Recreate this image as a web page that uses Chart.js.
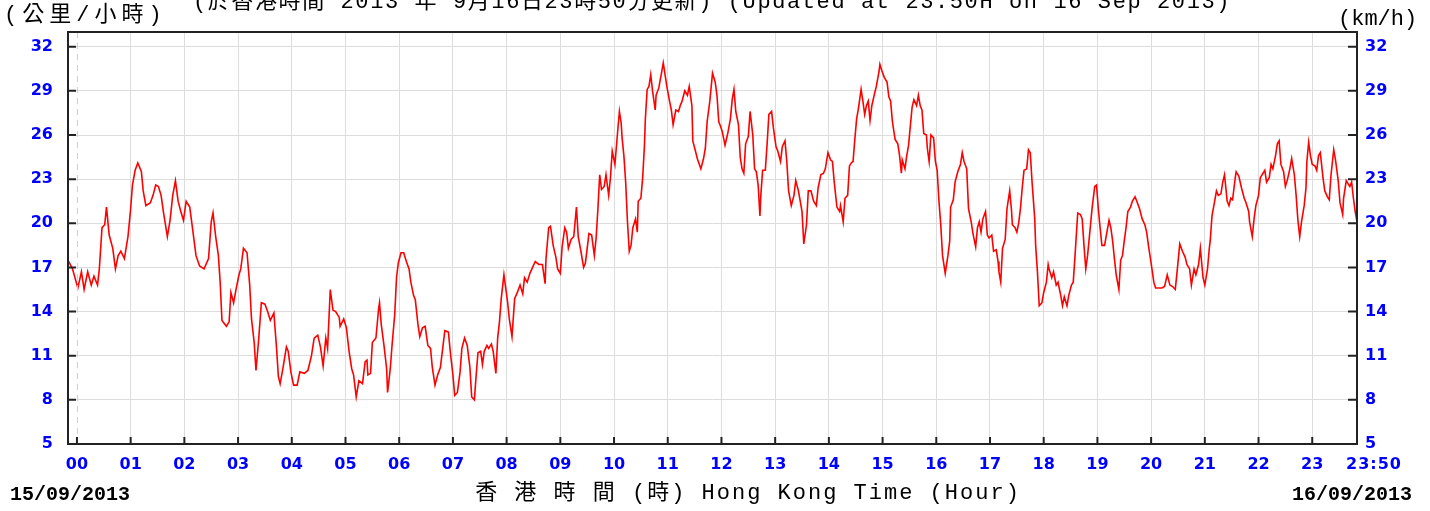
<!DOCTYPE html>
<html>
<head>
<meta charset="utf-8">
<script src="https://cdn.jsdelivr.net/npm/chart.js@4.4.0/dist/chart.umd.min.js"></script>
<style>
  body { margin: 0; background: #fff; }
  #wrap { width: 1430px; height: 511px; }
</style>
</head>
<body>
<div id="wrap"><canvas id="windChart" width="1430" height="511"></canvas></div>
<script>
// minutos desde 00:00 de 15/09 e velocidade (km/h)
const times = [
  -10, -5, 1, 5, 8, 12, 16, 19, 23, 25, 28, 31, 33, 36, 40, 43, 46, 49, 53, 57,
  60, 62, 65, 68, 72, 74, 77, 82, 85, 88, 91, 94, 97, 101, 104, 107, 110, 113, 116, 119,
  122, 126, 129, 133, 137, 142, 147, 150, 152, 155, 158, 160, 162, 167, 170, 172, 175, 178,
  181, 183, 186, 190, 193, 195, 198, 200, 203, 206, 210, 213, 216, 220, 223, 225, 227, 230, 234, 236, 239,
  242, 246, 249, 254, 258, 262, 265, 269, 272, 275, 278, 280, 283, 286, 289, 293, 294, 298,
  301, 304, 307, 309, 312, 315, 319, 322, 324, 325, 328, 330, 334, 337, 338, 340, 343, 346, 347, 350, 352, 355, 357, 359,
  362, 365, 368, 371, 373, 376, 378, 381, 383, 386, 389, 392, 395, 397, 400, 403, 406, 409, 411, 415, 417, 420,
  422, 425, 428, 430, 433, 436, 439, 441, 444, 446, 448, 451, 453, 455, 458, 460, 463, 465, 468, 470, 472, 474, 477, 479,
  481, 483, 486, 489, 492, 495, 498, 500, 503, 506, 509, 512, 516, 520, 523, 524, 527, 529, 532, 535, 537, 540,
  542, 545, 547, 549, 552, 555, 558, 560, 563, 566, 568, 572, 575, 578, 580, 582, 584, 586, 589, 591, 594, 596, 598,
  601, 604, 606, 608, 609, 611, 613, 615, 617, 619, 621, 624, 626, 627, 630, 632, 634, 635, 637, 639, 641, 643, 646, 647, 650,
  653, 655, 657, 659, 662, 664, 666, 669, 672, 674, 676, 679, 682, 684, 687, 688, 691, 693, 697, 700, 702, 704, 707, 710,
  713, 715, 717, 719, 721, 724, 727, 730, 732, 734, 736, 739, 741, 743, 745, 747, 750, 752, 755, 757, 759,
  761, 763, 764, 766, 769, 771, 773, 776, 778, 781, 783, 786, 788, 791, 793, 795, 798, 801, 803, 806, 808, 810, 812, 815, 817, 820,
  823, 826, 828, 831, 834, 836, 839, 842, 844, 846, 849, 852, 853, 856, 858, 861, 863, 865, 867, 869, 871, 873, 876, 878, 880,
  882, 884, 886, 888, 891, 893, 896, 897, 899, 902, 905, 907, 909, 911, 914, 917, 919, 921, 922, 925, 927, 929, 931, 933, 935, 938, 940,
  942, 944, 946, 949, 950, 952, 954, 957, 959, 961, 963, 965, 967, 970, 973, 975, 976, 979, 981, 984, 987, 989, 991, 994, 996, 999,
  1001, 1004, 1006, 1008, 1010, 1012, 1015, 1017, 1019, 1022, 1024, 1027, 1029, 1030, 1032, 1034, 1037, 1039, 1042, 1044, 1045, 1048, 1050, 1052, 1054, 1056, 1058,
  1061, 1063, 1065, 1067, 1070, 1071, 1073, 1075, 1078, 1080, 1083, 1085, 1086, 1089, 1091, 1094, 1096, 1099, 1101, 1103, 1106, 1108, 1111, 1113, 1115, 1118,
  1121, 1123, 1125, 1127, 1129, 1132, 1134, 1137, 1139, 1141, 1143, 1145, 1148, 1150, 1153, 1155, 1157, 1159, 1161, 1164, 1166, 1168, 1170, 1172, 1174, 1177, 1179,
  1182, 1184, 1187, 1190, 1193, 1195, 1197, 1200, 1203, 1205, 1209, 1212, 1215, 1218, 1221, 1224, 1227, 1229, 1232, 1235, 1238,
  1240, 1243, 1245, 1248, 1250, 1253, 1255, 1258, 1260, 1263, 1265, 1266, 1268, 1271, 1273, 1275, 1278, 1280, 1282, 1285, 1287, 1289, 1291, 1294, 1295, 1298,
  1301, 1304, 1306, 1309, 1310, 1313, 1315, 1317, 1320, 1322, 1324, 1327, 1329, 1332, 1334, 1336, 1339, 1341, 1343, 1345, 1348, 1350, 1352, 1355, 1357,
  1360, 1362, 1364, 1366, 1368, 1371, 1373, 1374, 1376, 1378, 1380, 1383, 1385, 1387, 1389, 1392, 1394, 1397, 1399, 1401, 1404, 1406, 1409, 1411, 1414, 1415, 1418,
  1420, 1422, 1424, 1426, 1428, 1430
];
const speeds = [
  17.5, 16.9, 15.6, 16.7, 15.5, 16.7, 15.8, 16.4, 15.8, 16.9, 19.7, 19.9, 21.1, 19.2, 18.3, 16.9, 17.8, 18.1, 17.6, 19.1,
  21.0, 22.6, 23.6, 24.1, 23.5, 22.2, 21.2, 21.4, 21.9, 22.6, 22.5, 21.9, 20.6, 19.1, 20.2, 21.9, 22.9, 21.5, 20.8, 20.2,
  21.5, 21.1, 19.7, 17.8, 17.1, 16.9, 17.6, 20.1, 20.7, 19.1, 17.8, 16.0, 13.4, 13.0, 13.3, 15.3, 14.6, 15.6,
  16.5, 16.9, 18.3, 18.0, 15.8, 13.5, 11.9, 10.0, 12.1, 14.6, 14.5, 14.0, 13.4, 13.9, 11.5, 9.6, 9.1, 10.1, 11.6, 11.3, 9.9,
  9.0, 9.0, 9.9, 9.8, 10.0, 11.0, 12.2, 12.4, 11.6, 10.3, 12.2, 11.5, 15.5, 14.1, 14.0, 13.6, 13.0, 13.5,
  12.9, 11.3, 10.1, 9.7, 8.2, 9.3, 9.1, 10.6, 10.7, 9.7, 9.8, 11.9, 12.2, 14.2, 14.6, 13.1, 11.7, 10.1, 8.5, 10.1, 11.7, 13.8, 16.3, 17.3,
  18.0, 18.0, 17.4, 16.9, 16.0, 15.1, 14.8, 13.1, 12.3, 12.9, 13.0, 11.7, 11.5, 10.2, 9.0, 9.7, 10.2, 11.7, 12.7, 12.6, 11.3, 9.7,
  8.3, 8.5, 9.9, 11.5, 12.2, 11.7, 10.2, 8.2, 8.0, 9.7, 11.2, 11.3, 10.4, 11.3, 11.7, 11.5, 11.8, 11.3, 9.8, 12.2, 13.3, 14.9, 16.5, 15.6,
  14.7, 13.5, 12.3, 14.9, 15.3, 15.8, 15.2, 16.3, 16.0, 16.6, 17.0, 17.4, 17.2, 17.2, 15.9, 17.6, 19.7, 19.8, 18.5, 17.7, 16.9, 16.6,
  18.4, 19.7, 19.4, 18.3, 18.9, 19.1, 21.1, 19.1, 18.1, 17.0, 17.3, 19.3, 19.2, 17.8, 19.0, 21.0, 23.3, 22.3, 22.5, 23.3, 21.9, 23.1, 24.9,
  24.0, 26.2, 27.6, 26.8, 25.8, 24.6, 22.8, 20.1, 18.1, 18.5, 19.7, 20.3, 19.4, 21.5, 21.7, 23.1, 25.3, 27.1, 29.1, 29.3, 30.1, 29.0, 27.7, 28.7, 29.2,
  30.2, 30.9, 30.1, 29.3, 28.3, 27.7, 26.7, 27.7, 27.6, 28.0, 28.3, 29.0, 28.7, 29.3, 28.0, 25.6, 24.9, 24.4, 23.7, 24.4, 25.1, 26.9, 28.3, 30.2,
  29.6, 28.7, 26.9, 26.6, 26.2, 25.3, 26.1, 27.1, 28.4, 29.1, 27.6, 26.7, 24.5, 23.7, 23.4, 25.4, 25.9, 27.6, 26.0, 23.7, 23.5,
  22.6, 20.5, 21.9, 23.6, 23.6, 25.4, 27.4, 27.6, 26.5, 25.2, 24.9, 24.2, 25.2, 25.6, 24.2, 22.2, 21.2, 21.9, 22.9, 22.2, 21.5, 20.8, 18.6, 19.9, 22.2, 22.2,
  21.5, 21.2, 22.4, 23.3, 23.4, 23.7, 24.8, 24.3, 24.2, 22.8, 21.1, 20.8, 21.2, 20.1, 21.7, 21.9, 23.9, 24.1, 24.2, 25.7, 27.1, 27.8, 29.1, 28.3, 27.4,
  28.0, 28.3, 27.0, 28.0, 28.8, 29.3, 30.3, 30.8, 30.4, 29.9, 29.6, 28.6, 28.3, 26.9, 25.7, 25.4, 24.6, 23.4, 24.3, 23.7, 24.6, 25.3, 26.6, 27.9, 28.4, 28.0, 28.7,
  28.0, 27.7, 26.1, 26.0, 25.1, 24.2, 26.0, 25.8, 24.2, 23.6, 21.5, 19.9, 17.8, 16.6, 17.8, 18.8, 21.1, 21.6, 22.8, 23.5, 24.0, 24.8, 24.2, 23.7, 21.0, 20.1,
  19.3, 18.4, 19.7, 20.1, 19.4, 20.3, 20.8, 19.2, 19.0, 19.2, 18.1, 18.2, 17.4, 16.7, 16.0, 18.3, 18.9, 21.0, 22.2, 20.9, 19.9, 19.7, 19.4, 20.0, 21.0, 22.4, 23.6,
  23.7, 25.0, 24.8, 22.8, 20.3, 18.5, 16.7, 14.4, 14.6, 15.3, 16.0, 17.2, 16.9, 16.3, 16.7, 15.8, 16.0, 15.1, 14.4, 15.0, 14.4, 15.1, 15.8, 16.0, 17.8, 20.7,
  20.6, 20.3, 18.5, 16.9, 17.8, 19.7, 21.0, 22.5, 22.6, 21.0, 19.7, 18.5, 18.5, 19.2, 20.2, 19.7, 18.8, 17.6, 16.5, 15.5, 17.5, 17.8, 18.8, 19.7, 20.8, 21.1, 21.5,
  21.8, 21.5, 21.0, 20.3, 19.9, 19.4, 18.5, 17.3, 16.0, 15.6, 15.6, 15.6, 15.7, 16.5, 15.8, 15.7, 15.5, 16.7, 18.6, 18.1, 17.7,
  17.2, 16.9, 15.8, 16.9, 16.5, 17.2, 18.3, 16.3, 15.8, 16.9, 18.3, 18.8, 20.5, 21.5, 22.2, 21.9, 22.0, 22.8, 23.3, 21.5, 21.2, 21.7, 21.6, 23.1, 23.5, 23.2,
  22.4, 21.7, 21.4, 20.8, 20.1, 19.1, 20.3, 21.2, 21.9, 23.1, 23.3, 23.6, 22.8, 23.1, 24.0, 23.7, 24.6, 25.4, 25.6, 24.0, 23.5, 22.5, 22.9, 23.7, 24.4,
  23.3, 21.9, 20.2, 19.1, 20.1, 21.2, 22.4, 24.2, 25.5, 24.6, 24.0, 23.9, 23.6, 24.6, 24.8, 23.1, 22.2, 21.8, 21.6, 23.3, 25.0, 24.3, 22.9, 21.4, 20.6, 21.7, 22.9,
  22.7, 22.5, 22.8, 21.7, 20.8, 20.1
];

// eixos
const yTickValues = [5, 8, 11, 14, 17, 20, 23, 26, 29, 32];
const xTickValues = [0, 60, 120, 180, 240, 300, 360, 420, 480, 540, 600, 660, 720, 780, 840, 900,
                     960, 1020, 1080, 1140, 1200, 1260, 1320, 1380, 1430];
const xTickLabels = ['00', '01', '02', '03', '04', '05', '06', '07', '08', '09', '10', '11', '12',
                     '13', '14', '15', '16', '17', '18', '19', '20', '21', '22', '23', '23:50'];

const tickFont = { family: 'DejaVu Sans', weight: 'bold', size: 16 };
const tickBlue = '#0000ff';
const gridGray = '#dcdcdc';

const points = times.map((t, i) => ({ x: t, y: speeds[i] }));

// moldura, marcas internas e textos fixos
const framePlugin = {
    id: 'frame',
    afterDraw(chart) {
        const ctx = chart.ctx;
        const area = chart.chartArea;
        const xs = chart.scales.x;
        const ys = chart.scales.y;
        ctx.save();

        // linha tracejada das 00
        const x0 = xs.getPixelForValue(0);
        ctx.strokeStyle = '#cfcfcf';
        ctx.lineWidth = 1;
        ctx.setLineDash([6, 5]);
        ctx.beginPath();
        ctx.moveTo(x0 + 0.5, area.top);
        ctx.lineTo(x0 + 0.5, area.bottom);
        ctx.stroke();
        ctx.setLineDash([]);

        // moldura
        ctx.strokeStyle = '#222';
        ctx.lineWidth = 2;
        ctx.strokeRect(area.left, area.top, area.right - area.left, area.bottom - area.top);

        // marcas para dentro
        ctx.beginPath();
        yTickValues.forEach(v => {
            const py = ys.getPixelForValue(v);
            ctx.moveTo(area.left, py);
            ctx.lineTo(area.left + 8, py);
            ctx.moveTo(area.right, py);
            ctx.lineTo(area.right - 9, py);
        });
        xTickValues.forEach(v => {
            const px = xs.getPixelForValue(v);
            ctx.moveTo(px, area.bottom);
            ctx.lineTo(px, area.bottom - 7);
        });
        ctx.stroke();

        // ultimo rotulo do eixo x
        ctx.fillStyle = tickBlue;
        ctx.font = 'bold 16px "DejaVu Sans"';
        ctx.letterSpacing = '1px';
        ctx.textAlign = 'center';
        ctx.textBaseline = 'alphabetic';
        ctx.fillText(xTickLabels[xTickLabels.length - 1], xs.getPixelForValue(1430) + 17, 469);

        // textos
        ctx.fillStyle = '#000';
        ctx.font = '22px "Liberation Mono", "Noto Sans CJK TC"';
        ctx.textAlign = 'left';
        ctx.letterSpacing = '5px';
        ctx.fillText('(公里/小時)', 4, 21);
        ctx.letterSpacing = '0px';
        ctx.fillText('(km/h)', 1338, 25);
        ctx.textAlign = 'center';
        ctx.letterSpacing = '1.6px';
        ctx.fillText('(於香港時間 2013 年 9月16日23時50分更新) (Updated at 23:50H on 16 Sep 2013)', 712, 8);
        ctx.letterSpacing = '2px';
        ctx.fillText('香 港 時 間 (時) Hong Kong Time (Hour)', 748, 499);

        ctx.letterSpacing = '0px';
        ctx.font = 'bold 20px "Liberation Mono"';
        ctx.textAlign = 'left';
        ctx.fillText('15/09/2013', 10, 500);
        ctx.textAlign = 'right';
        ctx.fillText('16/09/2013', 1412, 500);
        ctx.restore();
    }
};

const ctxWind = document.getElementById('windChart').getContext('2d');
const windChart = new Chart(ctxWind, {
    type: 'line',
    data: {
        datasets: [{
            label: 'km/h',
            data: points,
            borderColor: '#ff0000',
            borderWidth: 1.6,
            pointRadius: 0,
            tension: 0,
            fill: false
        }]
    },
    options: {
        responsive: false,
        animation: false,
        devicePixelRatio: 1,
        layout: { padding: { top: 32, left: 0, right: 0, bottom: 0 } },
        plugins: { legend: { display: false }, tooltip: { enabled: false } },
        scales: {
            x: {
                type: 'linear',
                min: -10,
                max: 1430,
                afterBuildTicks: scale => { scale.ticks = xTickValues.map(v => ({ value: v })); },
                afterFit: scale => { scale.height = 67; },
                ticks: {
                    autoSkip: false,
                    maxRotation: 0,
                    padding: 11,
                    color: tickBlue,
                    font: tickFont,
                    callback: (value, index) => index < xTickLabels.length - 1 ? xTickLabels[index] : ''
                },
                grid: {
                    color: ctx => (ctx.tick && (ctx.tick.value === 0 || ctx.tick.value === 1430)) ? 'rgba(0,0,0,0)' : gridGray,
                    lineWidth: 1,
                    drawTicks: false
                },
                border: { display: false }
            },
            y: {
                position: 'left',
                min: 5,
                max: 33,
                afterBuildTicks: scale => { scale.ticks = yTickValues.map(v => ({ value: v })); },
                afterFit: scale => { scale.width = 68; },
                ticks: { padding: 15, color: tickBlue, font: tickFont },
                grid: { color: gridGray, lineWidth: 1, drawTicks: false },
                border: { display: false }
            },
            y2: {
                position: 'right',
                min: 5,
                max: 33,
                afterBuildTicks: scale => { scale.ticks = yTickValues.map(v => ({ value: v })); },
                afterFit: scale => { scale.width = 73; },
                ticks: { padding: 8, color: tickBlue, font: tickFont },
                grid: { drawOnChartArea: false, drawTicks: false },
                border: { display: false }
            }
        }
    },
    plugins: [framePlugin]
});
</script>
</body>
</html>
